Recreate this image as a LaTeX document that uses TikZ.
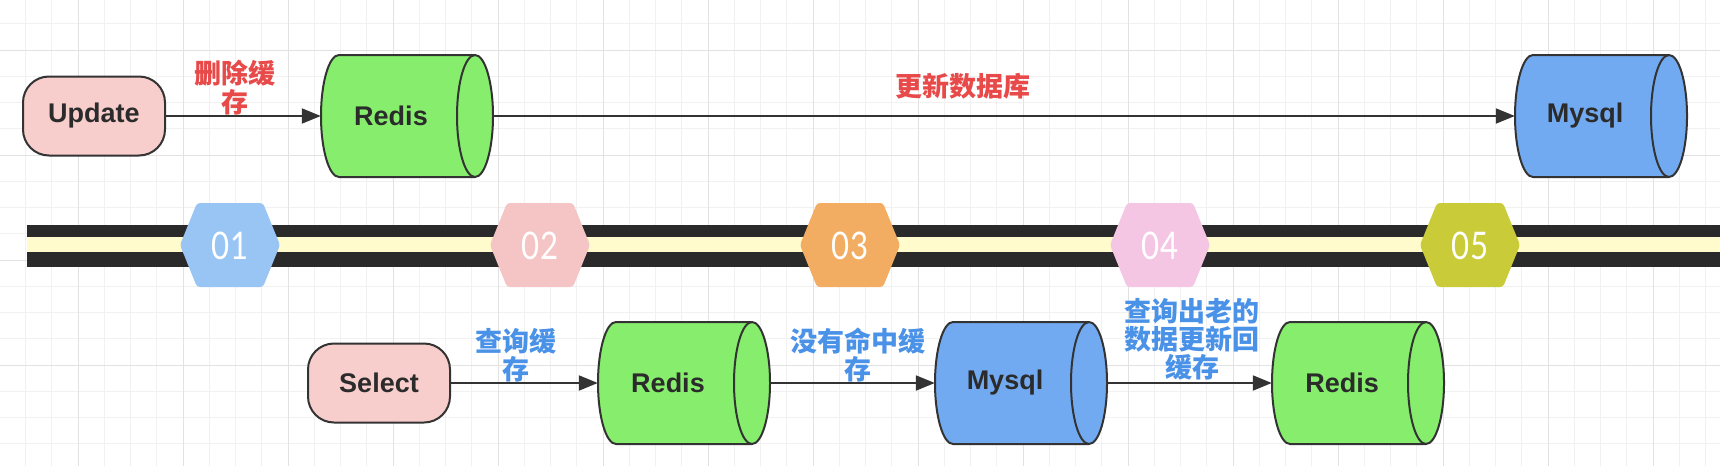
\documentclass[tikz,border=0pt]{standalone}
\usepackage{fontspec}
\setmainfont{Liberation Sans}
\newfontfamily\cjk{Noto Sans CJK SC}
\newfontfamily\hexfont{Lato}[FakeStretch=0.82]
\usetikzlibrary{arrows.meta}
\definecolor{edge}{HTML}{333333}
\definecolor{txt}{HTML}{2B2B2B}
\definecolor{pinkfill}{HTML}{F8CECC}
\definecolor{greenfill}{HTML}{86EE6C}
\definecolor{bluefill}{HTML}{72AAF2}
\definecolor{redtxt}{HTML}{E84A4A}
\definecolor{bluetxt}{HTML}{4A92E8}
\definecolor{bandyellow}{HTML}{FFFBCC}
\definecolor{banddark}{HTML}{2A2A2A}
\definecolor{hexA}{HTML}{99C5F5}
\definecolor{hexB}{HTML}{F5C5C5}
\definecolor{hexC}{HTML}{F3AD62}
\definecolor{hexD}{HTML}{F5C6E4}
\definecolor{hexE}{HTML}{C9CC38}
\definecolor{gridminor}{HTML}{F1F1F1}
\definecolor{gridmajor}{HTML}{E2E2E2}
\newcommand\dbcyl[3]{%
  \path[draw=edge, line width=2pt, fill=#3, line join=round]
    ({#1-68},{#2-61}) -- ({#1+68},{#2-61})
    arc[start angle=-90, end angle=90, x radius=18, y radius=61]
    -- ({#1-68},{#2+61})
    arc[start angle=90, end angle=270, x radius=18, y radius=61] -- cycle;
  \draw[draw=edge, line width=2pt]
    ({#1+68},{#2-61}) arc[start angle=270, end angle=90, x radius=18, y radius=61];
}
\newcommand\hexshape[3]{%
  \fill[#3, rounded corners=3pt]
    ({#1-50},{#2}) -- ({#1-33},{#2-42}) -- ({#1+33},{#2-42}) -- ({#1+50},{#2})
    -- ({#1+33},{#2+42}) -- ({#1-33},{#2+42}) -- cycle;
}
\begin{document}
\begin{tikzpicture}[x=1pt,y=-1pt,
  proc/.style={draw=edge, line width=2pt, fill=pinkfill, rounded corners=26pt,
    minimum width=142pt, minimum height=79pt, inner sep=0pt,
    font=\fontsize{27}{30}\selectfont\bfseries, text=txt},
  dbbox/.style={minimum width=172pt, minimum height=122pt, inner sep=0pt},
  dbtxt/.style={inner sep=0pt, font=\fontsize{27}{30}\selectfont\bfseries, text=txt},
  arr/.style={draw=edge, line width=2pt, -{Triangle[length=19pt,width=15pt]}},
  redlab/.style={text=redtxt, font=\fontsize{27}{29}\selectfont\cjk\bfseries, align=center, inner sep=0pt},
  bluelab/.style={text=bluetxt, font=\fontsize{27}{28}\selectfont\cjk\bfseries, align=center, inner sep=0pt},
  hexlab/.style={text=white, font=\fontsize{38}{40}\selectfont\hexfont, inner sep=0pt},
  gminor/.style={draw=gridminor, line width=1pt},
  gmajor/.style={draw=gridmajor, line width=1pt}]
\useasboundingbox[fill=white] (0,0) rectangle (1720,466);
% grid
\foreach \i in {-3,...,63} { \draw[gminor] ({78+26.25*\i},0) -- ({78+26.25*\i},466); }
\foreach \j in {-1,...,16} { \draw[gminor] (0,{50+26.25*\j}) -- (1720,{50+26.25*\j}); }
\foreach \i in {0,...,15} { \draw[gmajor] ({78+105*\i},0) -- ({78+105*\i},466); }
\foreach \j in {0,...,4} { \draw[gmajor] (0,{50+105*\j}) -- (1720,{50+105*\j}); }
% band
\fill[banddark] (27,225) rectangle (1720,267);
\fill[bandyellow] (27,237) rectangle (1720,252);
% hexagons
\hexshape{230}{245}{hexA}
\hexshape{540}{245}{hexB}
\hexshape{850}{245}{hexC}
\hexshape{1160}{245}{hexD}
\hexshape{1470}{245}{hexE}
\node[hexlab] (h1) at (230,246) {01};
\node[hexlab] (h2) at (540,246) {02};
\node[hexlab] (h3) at (850,246) {03};
\node[hexlab] (h4) at (1160,246) {04};
\node[hexlab] (h5) at (1470,246) {05};
% top row
\node[proc] (upd) at (94,116) {Update};
\dbcyl{407}{116}{greenfill}
\node[dbbox] (redisA) at (407,116) {};
\node[dbtxt] (redisAt) at (391,116) {Redis};
\dbcyl{1601}{116}{bluefill}
\node[dbbox] (mysqlA) at (1601,116) {};
\node[dbtxt] (mysqlAt) at (1585,116) {Mysql};
\draw[arr] (upd) -- (redisA);
\draw[arr] (redisA.east) -- (mysqlA);
\node[redlab] (labA) at (235,88) {删除缓\\存};
\node[redlab] (labB) at (963,86) {更新数据库};
% bottom row
\node[proc] (sel) at (379,383) {Select};
\dbcyl{684}{383}{greenfill}
\node[dbbox] (redisB) at (684,383) {};
\node[dbtxt] (redisBt) at (668,383) {Redis};
\dbcyl{1021}{383}{bluefill}
\node[dbbox] (mysqlB) at (1021,383) {};
\node[dbtxt] (mysqlBt) at (1005,383) {Mysql};
\dbcyl{1358}{383}{greenfill}
\node[dbbox] (redisC) at (1358,383) {};
\node[dbtxt] (redisCt) at (1342,383) {Redis};
\draw[arr] (sel) -- (redisB);
\draw[arr] (redisB.east) -- (mysqlB);
\draw[arr] (mysqlB.east) -- (redisC);
\node[bluelab] (labC) at (516,355) {查询缓\\存};
\node[bluelab] (labD) at (858,355) {没有命中缓\\存};
\node[bluelab] (labE) at (1192,339) {查询出老的\\数据更新回\\缓存};
\end{tikzpicture}
\end{document}
